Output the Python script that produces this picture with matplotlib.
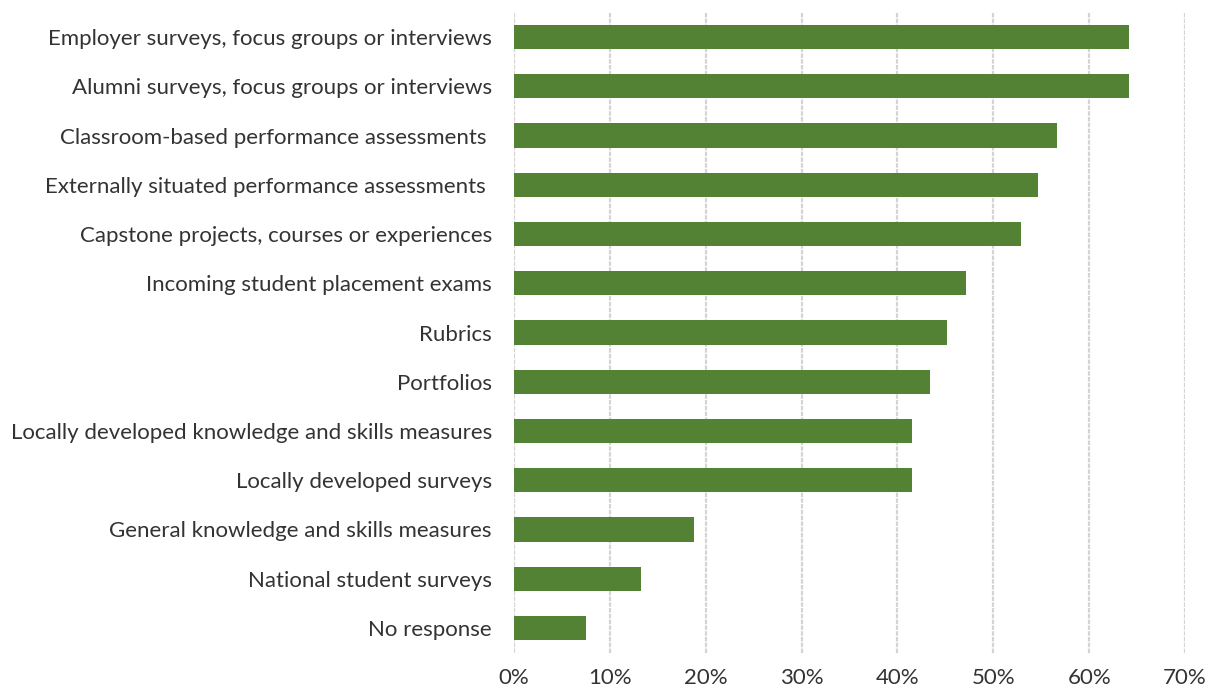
import matplotlib
matplotlib.use("Agg")
import matplotlib.pyplot as plt
from matplotlib.ticker import PercentFormatter

# categories, top to bottom
methods = [
    "Employer surveys, focus groups or interviews",
    "Alumni surveys, focus groups or interviews",
    "Classroom-based performance assessments ",
    "Externally situated performance assessments ",
    "Capstone projects, courses or experiences",
    "Incoming student placement exams",
    "Rubrics",
    "Portfolios",
    "Locally developed knowledge and skills measures",
    "Locally developed surveys",
    "General knowledge and skills measures",
    "National student surveys",
    "No response",
]
shares = [0.642, 0.642, 0.566, 0.547, 0.529, 0.471, 0.452, 0.434, 0.415, 0.415, 0.188, 0.132, 0.075]
xticks = [0, 0.1, 0.2, 0.3, 0.4, 0.5, 0.6, 0.7]

plt.rcParams['font.family'] = ['Lato', 'DejaVu Sans']

fig = plt.figure(figsize=(12.08, 6.91), dpi=100)
ax = fig.add_axes([0.4255, 0.0556, 0.5555, 0.9264])

pos = list(range(len(methods)))
ax.barh(pos, shares, height=0.49, color="#548235", zorder=3)
ax.set_ylim(len(methods) - 0.5, -0.5)
ax.set_yticks(pos)
ax.set_yticklabels(methods)

ax.set_xlim(0, 0.7)
ax.set_xticks(xticks)
ax.xaxis.set_major_formatter(PercentFormatter(1.0, decimals=0))
ax.grid(axis="x", color="#d4d4d4", linewidth=1.6, linestyle=(0, (2, 0.6)), zorder=0)

for s in ax.spines.values():
    s.set_visible(False)
ax.tick_params(axis="y", length=0, pad=16, labelsize=16, labelcolor="#333333")
ax.tick_params(axis="x", length=0, pad=11, labelsize=16, labelcolor="#333333")

fig.savefig("out.png", dpi=100)
